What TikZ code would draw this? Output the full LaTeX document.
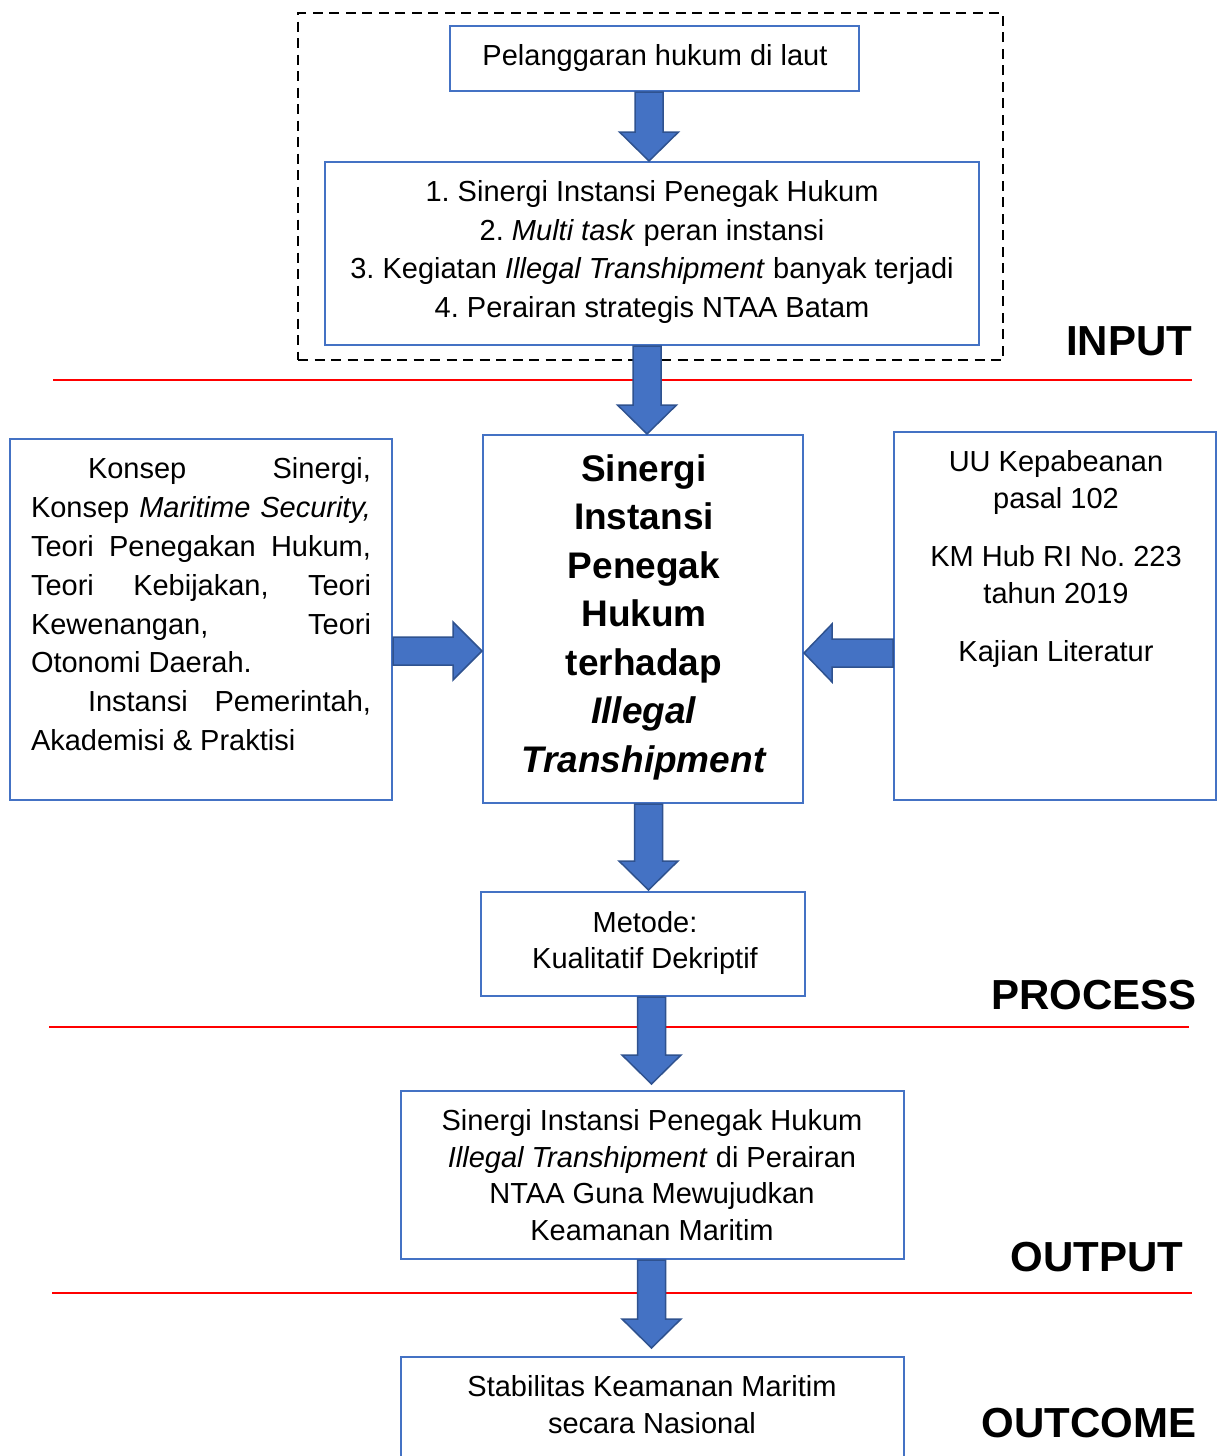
\documentclass[tikz,border=0pt]{standalone}
\usepackage{fontspec}
\setmainfont{Liberation Sans}
\usetikzlibrary{calc}
\frenchspacing
\definecolor{boxblue}{HTML}{4472C4}
\definecolor{arrowedge}{HTML}{2F528F}
\definecolor{linered}{HTML}{FF0000}
\tikzset{
  box/.style={draw=boxblue, line width=2pt, fill=white, inner sep=0pt, rectangle},
  frame/.style={draw=black, line width=2.8pt, dash pattern=on 10pt off 6.5pt, inner sep=0pt, rectangle},
  txt/.style={inner sep=0pt, align=center, font=\fontsize{29}{#1}\selectfont},
  txt/.default={38.5},
  bigtxt/.style={inner sep=0pt, align=center, font=\fontsize{37}{48.5}\selectfont\bfseries},
  lbl/.style={inner sep=0pt, anchor=base, font=\fontsize{42}{50}\selectfont\bfseries},
  blockarrow/.style={fill=boxblue, draw=arrowedge, line width=1.5pt, line join=miter},
  sepline/.style={draw=linered, line width=1.3pt}
}
% vertical block arrow: x centre, from node anchor, to node anchor, gap above target
\newcommand\varrow[4]{%
  \filldraw[blockarrow] let \p1=(#2), \p2=(#3) in
   ({#1pt-14pt},{\y1}) -- ({#1pt+14pt},{\y1}) -- ({#1pt+14pt},{\y2+#4pt+29pt})
   -- ({#1pt+29.5pt},{\y2+#4pt+29pt}) -- ({#1pt},{\y2+#4pt})
   -- ({#1pt-29.5pt},{\y2+#4pt+29pt}) -- ({#1pt-14pt},{\y2+#4pt+29pt}) -- cycle;}
% horizontal block arrow pointing right: y centre, tail anchor, tip anchor
\newcommand\harrowR[3]{%
  \filldraw[blockarrow] let \p1=(#2), \p2=(#3) in
   ({\x1},{#1pt+14pt}) -- ({\x2-29pt},{#1pt+14pt}) -- ({\x2-29pt},{#1pt+29pt})
   -- ({\x2},{#1pt}) -- ({\x2-29pt},{#1pt-29pt}) -- ({\x2-29pt},{#1pt-14pt})
   -- ({\x1},{#1pt-14pt}) -- cycle;}
% horizontal block arrow pointing left
\newcommand\harrowL[3]{%
  \filldraw[blockarrow] let \p1=(#2), \p2=(#3) in
   ({\x1},{#1pt+14pt}) -- ({\x2+28pt},{#1pt+14pt}) -- ({\x2+28pt},{#1pt+29pt})
   -- ({\x2},{#1pt}) -- ({\x2+28pt},{#1pt-29pt}) -- ({\x2+28pt},{#1pt-14pt})
   -- ({\x1},{#1pt-14pt}) -- cycle;}
\begin{document}
\begin{tikzpicture}[x=1pt,y=1pt]
\useasboundingbox (0,0) rectangle (1217,-1456);
\fill[white] (0,0) rectangle (1217,-1456);

% separator lines
\coordinate (r1a) at (53,-380);   \coordinate (r1b) at (1192,-380);
\coordinate (r2a) at (49,-1027);  \coordinate (r2b) at (1189,-1027);
\coordinate (r3a) at (52,-1293);  \coordinate (r3b) at (1192,-1293);
\draw[sepline] (r1a) -- (r1b);
\draw[sepline] (r2a) -- (r2b);
\draw[sepline] (r3a) -- (r3b);

% dashed input frame
\node[frame, minimum width=705pt, minimum height=347pt] (fr) at (650.5,-186.5) {};

% boxes
\node[box, minimum width=409pt, minimum height=65pt]  (b1) at (654.5,-58.5) {};
\node[box, minimum width=654pt, minimum height=183pt] (b2) at (652,-253.5) {};
\node[box, minimum width=320pt, minimum height=368pt] (bc) at (643,-619) {};
\node[box, minimum width=382pt, minimum height=361pt] (bl) at (201,-619.5) {};
\node[box, minimum width=322pt, minimum height=368pt] (br) at (1055,-616) {};
\node[box, minimum width=324pt, minimum height=104pt] (bm) at (643,-944) {};
\node[box, minimum width=503pt, minimum height=168pt] (bo) at (652.5,-1175) {};
\node[box, minimum width=503pt, minimum height=114pt] (bx) at (652.5,-1414) {};

% texts
\node[txt, anchor=base] (t1) at (655,-65.4) {Pelanggaran hukum di laut};
\node[txt] (t2) at (652,-251.7) {%
  \strut 1. Sinergi Instansi Penegak Hukum\\
  \strut 2. \textit{Multi task} peran instansi\\
  \strut 3. Kegiatan \textit{Illegal Transhipment} banyak terjadi\\
  \strut 4. Perairan strategis NTAA Batam};
\node[bigtxt] (tc) at (644,-617) {%
  \strut Sinergi\\ \strut Instansi\\ \strut Penegak\\ \strut Hukum\\ \strut terhadap\\
  \strut\textit{Illegal}\\ \strut\textit{Transhipment}};
\node[txt={38.8}, align=left] (tl) at (201,-606.9) {%
  \hbox to 340pt{\strut\hspace*{57pt}Konsep\hfill Sinergi,}\\
  \hbox to 340pt{\strut Konsep\hfill\textit{Maritime\hfill Security,}}\\
  \hbox to 340pt{\strut Teori\hfill Penegakan\hfill Hukum,}\\
  \hbox to 340pt{\strut Teori\hfill Kebijakan,\hfill Teori}\\
  \hbox to 340pt{\strut Kewenangan,\hfill Teori}\\
  \hbox to 340pt{\strut Otonomi Daerah.\hfill}\\
  \hbox to 340pt{\strut\hspace*{57pt}Instansi\hfill Pemerintah,}\\
  \hbox to 340pt{\strut Akademisi \& Praktisi\hfill}};
\node[txt={37}] (tr) at (1056,-559.5) {%
  \strut UU Kepabeanan\\ \strut pasal 102\\[21pt]
  \strut KM Hub RI No. 223\\ \strut tahun 2019\\[21pt]
  \strut Kajian Literatur};
\node[txt={36}] (tm) at (645,-943.2) {\strut Metode:\\ \strut Kualitatif Dekriptif};
\node[txt={36.7}] (to) at (652,-1178.1) {%
  \strut Sinergi Instansi Penegak Hukum\\
  \strut\textit{Illegal Transhipment} di Perairan\\
  \strut NTAA Guna Mewujudkan\\
  \strut Keamanan Maritim};
\node[txt={37}] (tx) at (652,-1407.6) {\strut Stabilitas Keamanan Maritim\\ \strut secara Nasional};

% section labels
\node[lbl] (lin)  at (1129,-355) {INPUT};
\node[lbl] (lpr)  at (1094,-1009) {PROCESS};
\node[lbl] (lout) at (1097,-1271) {OUTPUT};
\node[lbl] (loc)  at (1089,-1437) {OUTCOME};

% block arrows
\varrow{649}{b1.south}{b2.north}{0}
\varrow{647}{b2.south}{bc.north}{0}
\varrow{648.5}{bc.south}{bm.north}{1}
\varrow{651.5}{bm.south}{bo.north}{6}
\varrow{651.5}{bo.south}{bx.north}{8}
\harrowR{-651}{bl.east}{bc.west}
\harrowL{-653}{br.west}{bc.east}
\end{tikzpicture}
\end{document}
